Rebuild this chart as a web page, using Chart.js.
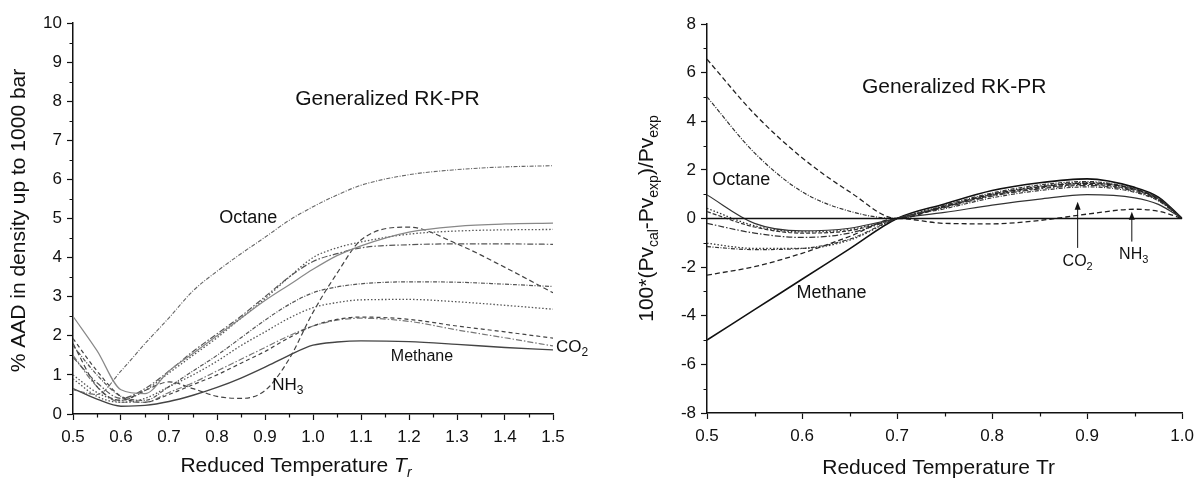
<!DOCTYPE html>
<html>
<head>
<meta charset="utf-8">
<script src="https://cdn.jsdelivr.net/npm/chart.js@4.4.0/dist/chart.umd.min.js"></script>
<style>
  html, body { margin: 0; padding: 0; background: #fff; }
  #wrap { position: relative; width: 1201px; height: 480px; }
  #aad { position: absolute; left: 0; top: 0; }
  #pv { position: absolute; left: 601px; top: 0; }
</style>
</head>
<body>
<div id="wrap">
  <canvas id="aad" width="600" height="480"></canvas>
  <canvas id="pv" width="600" height="480"></canvas>
</div>
<script>
// ---- left panel: % AAD in density vs reduced temperature ----
const aadTr = [0.5, 0.55, 0.6, 0.65, 0.7, 0.75, 0.8, 0.85, 0.9, 0.95, 1.0, 1.05, 1.1, 1.2, 1.3, 1.4, 1.5];
const aadOctane  = [0.62, 0.5, 1.1, 1.8, 2.46, 3.15, 3.65, 4.1, 4.52, 4.95, 5.3, 5.6, 5.85, 6.12, 6.25, 6.32, 6.35];
const aadSolidA  = [2.5, 1.62, 0.62, 0.52, 1.1, 1.55, 2.0, 2.45, 2.9, 3.3, 3.7, 4.05, 4.3, 4.65, 4.8, 4.86, 4.88];
const aadDotB    = [1.0, 0.55, 0.35, 0.6, 1.05, 1.5, 1.95, 2.45, 2.95, 3.5, 4.0, 4.25, 4.4, 4.6, 4.68, 4.71, 4.72];
const aadDashDotC = [1.45, 0.8, 0.4, 0.65, 1.1, 1.6, 2.05, 2.5, 3.0, 3.5, 3.9, 4.1, 4.25, 4.33, 4.35, 4.35, 4.34];
const aadDashDotD = [1.75, 1.0, 0.45, 0.35, 0.7, 1.1, 1.5, 1.95, 2.4, 2.8, 3.1, 3.25, 3.33, 3.38, 3.37, 3.32, 3.26];
const aadNH3     = [1.8, 0.7, 0.35, 0.6, 0.82, 0.65, 0.45, 0.4, 0.6, 1.4, 2.6, 3.6, 4.45, 4.78, 4.35, 3.75, 3.1];
const aadDotE    = [0.9, 0.45, 0.3, 0.4, 0.7, 1.0, 1.35, 1.75, 2.1, 2.45, 2.72, 2.85, 2.92, 2.93, 2.87, 2.78, 2.68];
const aadDashF   = [1.93, 1.1, 0.45, 0.3, 0.5, 0.75, 1.0, 1.3, 1.6, 1.95, 2.25, 2.42, 2.48, 2.42, 2.25, 2.1, 1.94];
const aadCO2     = [1.5, 0.7, 0.3, 0.3, 0.55, 0.8, 1.1, 1.4, 1.7, 2.0, 2.25, 2.4, 2.45, 2.37, 2.15, 1.95, 1.74];
const aadMethane = [0.65, 0.38, 0.2, 0.22, 0.32, 0.48, 0.68, 0.92, 1.2, 1.5, 1.76, 1.84, 1.87, 1.85, 1.78, 1.7, 1.64];

// ---- right panel: vapour pressure deviation vs reduced temperature ----
const pvTr = [0.5, 0.55, 0.6, 0.65, 0.7, 0.75, 0.8, 0.85, 0.9, 0.95, 0.975, 1.0];
const pvDash1    = [6.55, 4.3, 2.5, 1.1, 0, 0.5, 1.0, 1.3, 1.45, 1.2, 0.8, 0];
const pvDashDot2 = [5.0, 2.7, 1.1, 0.3, 0, 0.55, 1.05, 1.38, 1.52, 1.22, 0.83, 0];
const pvOctane   = [0.97, -0.2, -0.51, -0.4, 0, 0.25, 0.55, 0.8, 0.98, 0.85, 0.58, 0];
const pvDot4     = [0.42, -0.3, -0.55, -0.45, 0, 0.5, 0.98, 1.3, 1.45, 1.2, 0.8, 0];
const pvDash5    = [0.28, -0.35, -0.6, -0.5, 0, 0.48, 0.95, 1.25, 1.4, 1.16, 0.78, 0];
const pvDashDot6 = [-0.2, -0.6, -0.78, -0.6, 0, 0.45, 0.92, 1.22, 1.36, 1.12, 0.75, 0];
const pvDot7     = [-1.02, -1.23, -1.23, -0.89, 0, 0.52, 1.0, 1.33, 1.48, 1.22, 0.82, 0];
const pvDashDot8 = [-1.16, -1.28, -1.23, -0.85, 0, 0.4, 0.85, 1.15, 1.3, 1.08, 0.72, 0];
const pvNH3      = [-2.33, -1.98, -1.43, -0.74, 0, -0.2, -0.22, -0.08, 0.18, 0.38, 0.3, 0];
const pvMethane  = [-5.0, -3.75, -2.5, -1.25, 0, 0.6, 1.15, 1.47, 1.63, 1.28, 0.88, 0];
const pvZeroTr = [0.5, 1.0];
const pvZero = [0, 0];

// text notes, positioned in data units
const aadNotes = [
  { parts: [["Generalized RK-PR", ""]], x: 1.155, y: 8.05, size: 21, align: "center" },
  { parts: [["Octane", ""]], x: 0.865, y: 5.01, size: 18, align: "center" },
  { parts: [["NH", ""], ["3", "sub"]], x: 0.915, y: 0.74, size: 17, align: "left" },
  { parts: [["Methane", ""]], x: 1.227, y: 1.46, size: 16, align: "center" },
  { parts: [["CO", ""], ["2", "sub"]], x: 1.506, y: 1.71, size: 17, align: "left" },
];
const pvNotes = [
  { parts: [["Generalized RK-PR", ""]], x: 0.76, y: 5.41, size: 21, align: "center" },
  { parts: [["Octane", ""]], x: 0.536, y: 1.58, size: 18, align: "center" },
  { parts: [["Methane", ""]], x: 0.631, y: -3.07, size: 18, align: "center" },
  { parts: [["CO", ""], ["2", "sub"]], x: 0.89, y: -1.79, size: 16, align: "center" },
  { parts: [["NH", ""], ["3", "sub"]], x: 0.949, y: -1.5, size: 16, align: "center" },
];
const pvArrows = [
  { x: 0.89, from: -1.21, to: 0.69 },
  { x: 0.947, from: -0.95, to: 0.28 },
];

const FONT = '"Liberation Sans", Arial, Helvetica, sans-serif';
Chart.defaults.font.family = FONT;
Chart.defaults.color = "#111";

const DASH = [5, 3];
const DOT = [1.5, 2];
const DASHDOT = [6, 2, 1.5, 2];
const FINEDASH = [4, 1.5, 1, 1.5];

function series(xs, ys, color, dash, width) {
  return {
    data: xs.map((x, i) => ({ x: x, y: ys[i] })),
    borderColor: color,
    borderDash: dash,
    borderWidth: width,
    pointRadius: 0,
    fill: false,
    cubicInterpolationMode: "monotone",
  };
}

// draw a run of text pieces, some as subscript or italic
function drawRich(ctx, parts, x, y, size, align) {
  const pieces = parts.map(([t, kind]) => {
    const sub = kind.indexOf("sub") >= 0;
    const it = kind.indexOf("i") === 0;
    const fs = sub ? Math.round(size * 0.68) : size;
    const font = (it ? "italic " : "") + fs + "px " + FONT;
    ctx.font = font;
    return { t, font, sub, w: ctx.measureText(t).width };
  });
  const total = pieces.reduce((s, p) => s + p.w, 0);
  let cx = align === "center" ? x - total / 2 : x;
  ctx.textAlign = "left";
  ctx.textBaseline = "middle";
  pieces.forEach((p) => {
    ctx.font = p.font;
    ctx.fillText(p.t, cx, p.sub ? y + size * 0.32 : y);
    cx += p.w;
  });
}

function isMajor(v, every) {
  return Math.abs(v / every - Math.round(v / every)) < 1e-6;
}

function notesPlugin(notes, arrows, xTitle, yTitle, xEvery, yEvery) {
  return {
    id: "notes",
    afterDraw(chart) {
      const ctx = chart.ctx;
      const xs = chart.scales.x;
      const ys = chart.scales.y;
      const area = chart.chartArea;
      ctx.save();

      // short minor ticks (major ones come from the grid options)
      ctx.strokeStyle = "#111";
      ctx.lineWidth = 1.2;
      ctx.beginPath();
      xs.ticks.forEach((t) => {
        if (isMajor(t.value, xEvery)) return;
        const px = Math.round(xs.getPixelForValue(t.value)) + 0.5;
        ctx.moveTo(px, area.bottom);
        ctx.lineTo(px, area.bottom + 3.5);
      });
      ys.ticks.forEach((t) => {
        if (isMajor(t.value, yEvery)) return;
        const py = Math.round(ys.getPixelForValue(t.value)) + 0.5;
        ctx.moveTo(area.left, py);
        ctx.lineTo(area.left - 3.5, py);
      });
      ctx.stroke();

      ctx.fillStyle = "#111";
      notes.forEach((n) => {
        drawRich(ctx, n.parts, xs.getPixelForValue(n.x), ys.getPixelForValue(n.y), n.size, n.align);
      });
      ctx.lineWidth = 1;
      arrows.forEach((a) => {
        const px = xs.getPixelForValue(a.x);
        const y0 = ys.getPixelForValue(a.from);
        const y1 = ys.getPixelForValue(a.to);
        ctx.beginPath();
        ctx.moveTo(px, y0);
        ctx.lineTo(px, y1 + 5);
        ctx.stroke();
        ctx.beginPath();
        ctx.moveTo(px, y1);
        ctx.lineTo(px - 3, y1 + 8);
        ctx.lineTo(px + 3, y1 + 8);
        ctx.closePath();
        ctx.fill();
      });
      // axis titles
      drawRich(ctx, xTitle.parts, (area.left + area.right) / 2 + xTitle.dx, xTitle.y, 21, "center");
      ctx.translate(yTitle.x, (area.top + area.bottom) / 2 + yTitle.dy);
      ctx.rotate(-Math.PI / 2);
      drawRich(ctx, yTitle.parts, 0, 0, 21, "center");
      ctx.restore();
    },
  };
}

function axes(xMin, xMax, xStep, yMin, yMax, yStep, yLabelEvery, yWidth, xHeight) {
  const gridFor = (every) => ({
    display: true,
    drawOnChartArea: false,
    drawTicks: true,
    tickLength: 6,
    tickWidth: 1.2,
    tickColor: (c) => (c.tick && isMajor(c.tick.value, every) ? "#111" : "rgba(0,0,0,0)"),
    color: "#111",
  });
  return {
    x: {
      type: "linear",
      min: xMin,
      max: xMax,
      grid: gridFor(0.1),
      border: { display: true, color: "#111", width: 1.5 },
      ticks: {
        stepSize: xStep,
        autoSkip: false,
        maxRotation: 0,
        padding: 7,
        font: { size: 17 },
        color: "#111",
        callback: (v) => (isMajor(v, 0.1) ? v.toFixed(1) : ""),
      },
      afterFit: (s) => { s.height = xHeight; },
    },
    y: {
      min: yMin,
      max: yMax,
      grid: gridFor(yLabelEvery),
      border: { display: true, color: "#111", width: 1.5 },
      ticks: {
        stepSize: yStep,
        autoSkip: false,
        padding: 5,
        font: { size: 17 },
        color: "#111",
        callback: (v) => (isMajor(v, yLabelEvery) ? String(Math.round(v)) : ""),
      },
      afterFit: (s) => { s.width = yWidth; },
    },
  };
}

const gray = "#666";
const darkGray = "#555";

new Chart(document.getElementById("aad"), {
  type: "line",
  data: {
    datasets: [
      series(aadTr, aadOctane, gray, FINEDASH, 1.1),
      series(aadTr, aadSolidA, "#888", [], 1.2),
      series(aadTr, aadDotB, darkGray, DOT, 1.3),
      series(aadTr, aadDashDotC, darkGray, DASHDOT, 1.2),
      series(aadTr, aadDashDotD, darkGray, FINEDASH, 1.2),
      series(aadTr, aadNH3, "#444", DASH, 1.2),
      series(aadTr, aadDotE, darkGray, DOT, 1.3),
      series(aadTr, aadDashF, "#444", [4, 3], 1.2),
      series(aadTr, aadCO2, "#777", DASHDOT, 1.2),
      series(aadTr, aadMethane, "#444", [], 1.4),
    ],
  },
  options: {
    responsive: false,
    animation: false,
    events: [],
    layout: { padding: { left: 0, top: 23, right: 47, bottom: 0 } },
    plugins: { legend: { display: false }, tooltip: { enabled: false } },
    scales: axes(0.5, 1.5, 0.05, 0, 10, 0.5, 1, 73, 66),
  },
  plugins: [
    notesPlugin(
      aadNotes,
      [],
      { parts: [["Reduced Temperature ", ""], ["T", "i"], ["r", "isub"]], dx: -17, y: 466 },
      { parts: [["% AAD in density up to 1000 bar", ""]], x: 19, dy: 2 },
      0.1,
      1
    ),
  ],
});

new Chart(document.getElementById("pv"), {
  type: "line",
  data: {
    datasets: [
      series(pvZeroTr, pvZero, "#111", [], 1.4),
      series(pvTr, pvDash1, "#222", DASH, 1.3),
      series(pvTr, pvDashDot2, "#333", FINEDASH, 1.2),
      series(pvTr, pvOctane, "#333", [], 1.2),
      series(pvTr, pvDot4, "#333", DOT, 1.3),
      series(pvTr, pvDash5, "#333", [4, 2], 1.2),
      series(pvTr, pvDashDot6, "#333", DASHDOT, 1.2),
      series(pvTr, pvDot7, "#333", DOT, 1.3),
      series(pvTr, pvDashDot8, "#333", FINEDASH, 1.2),
      series(pvTr, pvNH3, "#222", DASH, 1.3),
      series(pvTr, pvMethane, "#111", [], 1.6),
    ],
  },
  options: {
    responsive: false,
    animation: false,
    events: [],
    layout: { padding: { left: 0, top: 24, right: 16, bottom: 0 } },
    plugins: { legend: { display: false }, tooltip: { enabled: false } },
    scales: axes(0.5, 1.0, 0.05, -8, 8, 1, 2, 106, 67),
  },
  plugins: [
    notesPlugin(
      pvNotes,
      pvArrows,
      { parts: [["Reduced Temperature Tr", ""]], dx: -6, y: 468 },
      {
        parts: [["100*(Pv", ""], ["cal", "sub"], ["-Pv", ""], ["exp", "sub"], [")/Pv", ""], ["exp", "sub"]],
        x: 46,
        dy: 0,
      },
      0.1,
      2
    ),
  ],
});
</script>
</body>
</html>
